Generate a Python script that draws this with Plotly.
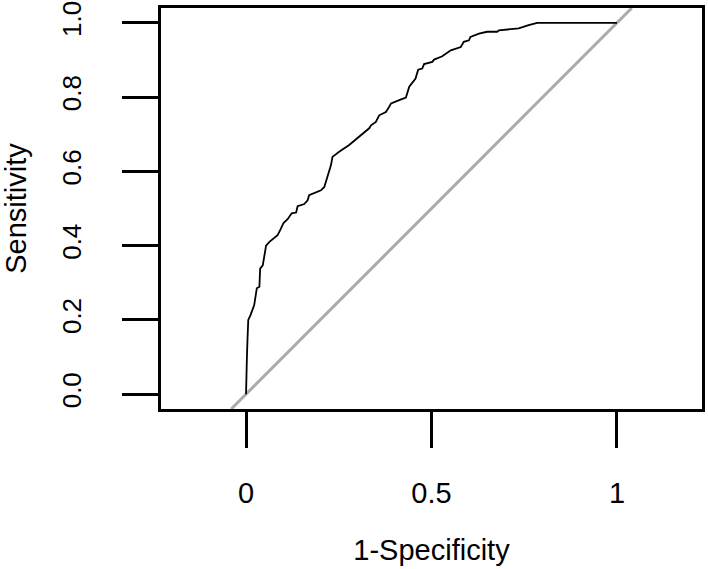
import plotly.graph_objects as go

# ROC curve points
fpr = [0.0, 0.0, 0.002, 0.004, 0.006, 0.012, 0.015, 0.022, 0.029, 0.036, 0.038, 0.045,
       0.049, 0.054, 0.063, 0.085, 0.092, 0.101, 0.112, 0.123, 0.135, 0.139, 0.157,
       0.166, 0.170, 0.202, 0.211, 0.220, 0.229, 0.233, 0.251, 0.278, 0.305, 0.332,
       0.337, 0.350, 0.359, 0.377, 0.386, 0.391, 0.413, 0.431, 0.440, 0.457, 0.464,
       0.475, 0.480, 0.502, 0.507, 0.529, 0.552, 0.579, 0.587, 0.601, 0.605, 0.628,
       0.650, 0.677, 0.682, 0.709, 0.735, 0.762, 0.785, 1.0]
tpr = [0.0, 0.057, 0.087, 0.150, 0.200, 0.213, 0.222, 0.240, 0.285, 0.289, 0.338, 0.347,
       0.370, 0.400, 0.410, 0.428, 0.442, 0.461, 0.471, 0.487, 0.489, 0.506, 0.512,
       0.522, 0.536, 0.549, 0.558, 0.585, 0.617, 0.639, 0.653, 0.671, 0.693, 0.716,
       0.724, 0.733, 0.751, 0.760, 0.774, 0.783, 0.792, 0.799, 0.828, 0.850, 0.874,
       0.877, 0.889, 0.895, 0.901, 0.910, 0.926, 0.935, 0.949, 0.953, 0.962, 0.971,
       0.976, 0.976, 0.980, 0.983, 0.985, 0.994, 1.0, 1.0]

x_ticks = [0, 0.5, 1]
x_ticklabels = ["0", "0.5", "1"]
y_ticks = [0, 0.2, 0.4, 0.6, 0.8, 1.0]
y_ticklabels = ["0.0", "0.2", "0.4", "0.6", "0.8", "1.0"]

x_range = [-0.2293, 1.2293]
y_range = [-0.04, 1.04]

FONT = "Liberation Sans, Arial, Helvetica, sans-serif"

fig = go.Figure()
# chance diagonal y = x across the plotted region
fig.add_trace(go.Scatter(x=y_range, y=y_range, mode="lines",
                         line=dict(color="#ABABAB", width=3), showlegend=False,
                         hoverinfo="skip"))
fig.add_trace(go.Scatter(x=fpr, y=tpr, mode="lines",
                         line=dict(color="black", width=1.8), showlegend=False))

fig.update_layout(
    width=708, height=569,
    margin=dict(l=161, r=6, t=8, b=160),
    paper_bgcolor="white", plot_bgcolor="white",
    font=dict(family=FONT, size=29, color="black"),
)
fig.update_xaxes(
    range=x_range, tickvals=x_ticks, ticktext=x_ticklabels,
    showgrid=False, zeroline=False, automargin=False,
    showline=True, mirror=True, linecolor="black", linewidth=3,
    ticks="outside", ticklen=36, tickwidth=3, tickcolor="black",
    ticklabelstandoff=20, ticklabeloverflow="allow",
    title=dict(text="1-Specificity", standoff=32, font=dict(size=29)),
)
fig.update_yaxes(
    range=y_range, tickvals=y_ticks, ticktext=y_ticklabels,
    tickfont=dict(size=26),
    showgrid=False, zeroline=False, automargin=False,
    showline=True, mirror=True, linecolor="black", linewidth=3,
    ticks="outside", ticklen=36, tickwidth=3, tickcolor="black",
    tickangle=-90, ticklabelstandoff=31, ticklabeloverflow="allow",
    title=dict(text="Sensitivity", standoff=22, font=dict(size=29)),
)

fig.write_html("out.html")
